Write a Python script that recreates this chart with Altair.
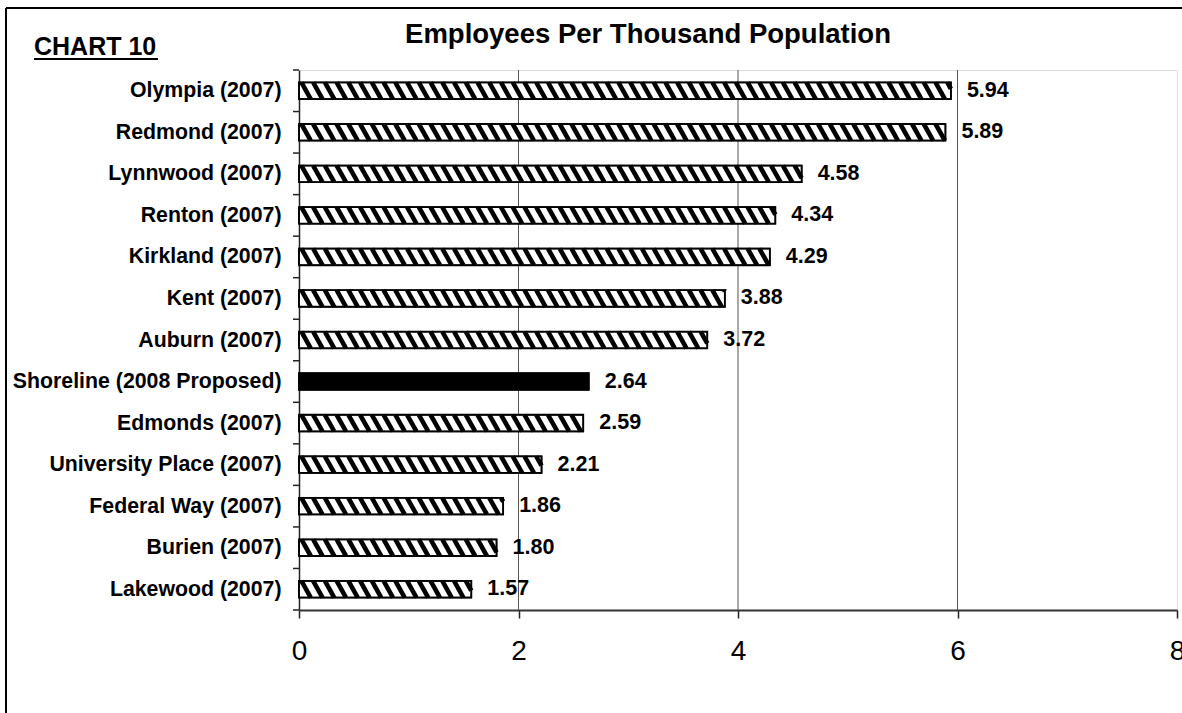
import json

import altair as alt
import pandas as pd

# Employees per thousand residents, city budgets
cities = [
    "Olympia (2007)",
    "Redmond (2007)",
    "Lynnwood (2007)",
    "Renton (2007)",
    "Kirkland (2007)",
    "Kent (2007)",
    "Auburn (2007)",
    "Shoreline (2008 Proposed)",
    "Edmonds (2007)",
    "University Place (2007)",
    "Federal Way (2007)",
    "Burien (2007)",
    "Lakewood (2007)",
]
values = [5.94, 5.89, 4.58, 4.34, 4.29, 3.88, 3.72, 2.64, 2.59, 2.21, 1.86, 1.80, 1.57]
highlight = "Shoreline (2008 Proposed)"
x_ticks = [0, 2, 4, 6, 8]
grid_at = [2, 4, 6]

FONT = "Liberation Sans"
BAR_HALF = 0.2       # half bar thickness, in row units
HATCH_STEP = 0.107   # stripe spacing, in x units
HATCH_RUN = 0.085    # horizontal run of one stripe across the bar

n = len(cities)
bars = pd.DataFrame({"city": cities, "value": values, "idx": list(range(n))})
bars["lo"] = bars["idx"] - BAR_HALF
bars["hi"] = bars["idx"] + BAR_HALF
bars["solid"] = bars["city"] == highlight
bars["label"] = bars["value"].map(lambda v: f"{v:.2f}")
bars["zero"] = 0.0

# diagonal hatch strokes, clipped to each bar's rectangle
segs = []
for i, (c, v) in enumerate(zip(cities, values)):
    if c == highlight:
        continue
    a = -HATCH_RUN
    while a < v:
        t0 = max(0.0, -a / HATCH_RUN)
        t1 = min(1.0, (v - a) / HATCH_RUN)
        if t1 > t0:
            segs.append({
                "hx": a + HATCH_RUN * t0,
                "hx2": a + HATCH_RUN * t1,
                "hy": i - BAR_HALF + 2 * BAR_HALF * t0,
                "hy2": i - BAR_HALF + 2 * BAR_HALF * t1,
            })
        a += HATCH_STEP
hatch = pd.DataFrame(segs)

bounds = pd.DataFrame({"b": [k - 0.5 for k in range(n + 1)]})
grid = pd.DataFrame({"g": grid_at})
one = pd.DataFrame({"k": [0]})

xs = alt.Scale(domain=[0, 8], nice=False, zero=True)
ys = alt.Scale(domain=[-0.5, n - 0.5], reverse=True, nice=False, zero=False)

label_expr = json.dumps(cities) + "[datum.value]"

x_axis = alt.Axis(
    values=x_ticks, format="d", grid=False, tickSize=8, tickColor="#222",
    tickWidth=1.5, domainColor="#333", domainWidth=2, labelFontSize=28,
    labelFont=FONT, labelColor="black", labelPadding=19, labelFlush=False,
    title=None,
)
y_axis = alt.Axis(
    values=list(range(n)), labelExpr=label_expr, ticks=False, grid=False,
    domainColor="#222", domainWidth=1.5, labelFont=FONT, labelFontSize=21.3,
    labelFontWeight="bold", labelColor="black", labelPadding=18,
    labelOverlap=False, labelFlush=False, labelLimit=0, title=None,
)

gridlines = alt.Chart(grid).mark_rule(color="#555", strokeWidth=1).encode(
    x=alt.X("g:Q", scale=xs, axis=x_axis),
)

base_bars = alt.Chart(bars).mark_rect(stroke="black", strokeWidth=1.5).encode(
    x=alt.X("zero:Q", scale=xs, axis=x_axis),
    x2="value:Q",
    y=alt.Y("lo:Q", scale=ys, axis=y_axis),
    y2="hi:Q",
    fill=alt.condition("datum.solid", alt.value("black"), alt.value("white")),
)

hatch_lines = alt.Chart(hatch).mark_rule(color="black", strokeWidth=4.6, strokeCap="butt").encode(
    x=alt.X("hx:Q", scale=xs),
    x2="hx2:Q",
    y=alt.Y("hy:Q", scale=ys),
    y2="hy2:Q",
)

outlines = alt.Chart(bars).mark_rect(filled=False, stroke="black", strokeWidth=1.8).encode(
    x=alt.X("zero:Q", scale=xs),
    x2="value:Q",
    y=alt.Y("lo:Q", scale=ys),
    y2="hi:Q",
)

value_labels = alt.Chart(bars).mark_text(
    align="left", baseline="middle", dx=16, font=FONT, fontSize=21.5,
    fontWeight="bold", color="black",
).encode(
    x=alt.X("value:Q", scale=xs),
    y=alt.Y("idx:Q", scale=ys),
    text="label:N",
)

row_ticks = alt.Chart(bounds).mark_rule(color="#222", strokeWidth=1.5).encode(
    x=alt.value(-6), x2=alt.value(0), y=alt.Y("b:Q", scale=ys),
)

title = alt.Chart(one).mark_text(
    text="Employees Per Thousand Population", align="center",
    baseline="alphabetic", font=FONT, fontSize=27.5, fontWeight="bold",
    color="black",
).encode(x=alt.value(349), y=alt.value(-27))

tag = alt.Chart(one).mark_text(
    text="CHART 10", align="left", baseline="alphabetic", font=FONT,
    fontSize=25, fontWeight="bold", color="black",
).encode(x=alt.value(-265), y=alt.value(-15))

tag_underline = alt.Chart(one).mark_rule(color="black", strokeWidth=2).encode(
    x=alt.value(-265), x2=alt.value(-141), y=alt.value(-11),
)

frame_top = alt.Chart(one).mark_rule(color="black", strokeWidth=2).encode(
    x=alt.value(-293), x2=alt.value(900), y=alt.value(-62),
)
frame_left = alt.Chart(one).mark_rule(color="black", strokeWidth=2).encode(
    x=alt.value(-293), y=alt.value(-62), y2=alt.value(660),
)

chart = alt.layer(
    gridlines, base_bars, hatch_lines, outlines, value_labels, row_ticks,
    title, tag, tag_underline, frame_top, frame_left,
).properties(
    width=878,
    height=540,
    padding={"left": 299, "top": 70, "right": 5, "bottom": 103},
    autosize=alt.AutoSizeParams(type="none"),
    background="white",
).configure_view(
    stroke="#8c8c8c", strokeWidth=2,
).configure(font=FONT)

chart.save("out.html", embed_options={"renderer": "svg", "actions": False})
